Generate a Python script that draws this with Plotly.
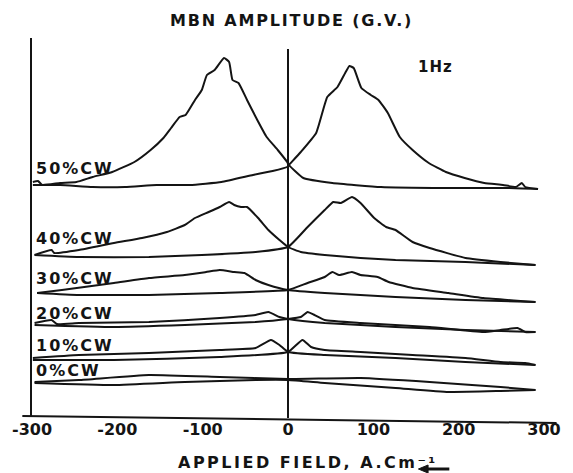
import plotly.graph_objects as go

# Applied field (A/cm) and MBN amplitude (arbitrary, stacked)
cw_labels = ["50%CW", "40%CW", "30%CW", "20%CW", "10%CW", "0%CW"]
label_y = [248, 178, 138, 103, 71, 46]

x50a = [-299, -293, -288, -267, -248, -229, -206, -180, -161, -146, -137, -127, -120, -109, -101, -95, -86, -75, -69, -65, -58, -48, -36, -25, -12, -1, 1, 18, 52, 109, 185, 259, 293]
y50a = [234, 235, 231, 233, 234, 239, 244, 254, 266, 278, 288, 299, 301, 316, 326, 341, 346, 358, 354, 336, 333, 316, 296, 279, 266, 254, 251, 238, 233, 229, 228, 228, 227]
x50b = [-299, -267, -229, -191, -154, -115, -78, -41, -18, -1, 1, 15, 33, 46, 58, 67, 72, 77, 86, 97, 106, 117, 131, 146, 165, 185, 207, 230, 252, 267, 274, 278, 293]
y50b = [231, 231, 229, 229, 231, 231, 234, 241, 245, 249, 251, 264, 283, 319, 329, 343, 350, 348, 328, 321, 316, 303, 279, 266, 253, 244, 238, 233, 231, 229, 233, 229, 227]

x40a = [-297, -277, -274, -245, -204, -171, -142, -121, -109, -93, -80, -69, -63, -55, -48, -35, -23, -10, 0, 15, 43, 85, 126, 208, 290]
y40a = [161, 166, 163, 166, 173, 178, 184, 191, 198, 204, 209, 214, 211, 209, 209, 198, 186, 176, 169, 164, 161, 158, 156, 154, 151]
x40b = [-297, -245, -163, -101, -38, 0, 23, 43, 53, 62, 75, 85, 101, 115, 126, 146, 166, 208, 249, 290]
y40b = [161, 159, 159, 161, 164, 169, 189, 206, 214, 213, 219, 213, 198, 189, 186, 174, 168, 158, 154, 151]

x30a = [-294, -265, -204, -163, -121, -96, -80, -63, -51, -38, -23, 0, 43, 126, 208, 290]
y30a = [123, 126, 133, 138, 141, 144, 146, 144, 143, 136, 131, 126, 123, 119, 116, 114]
x30b = [-294, -245, -163, -80, 0, 23, 43, 52, 60, 75, 85, 105, 118, 146, 188, 229, 290]
y30b = [123, 121, 121, 123, 126, 133, 139, 144, 141, 144, 141, 139, 134, 128, 123, 118, 114]

x20a = [-297, -277, -271, -245, -163, -80, -38, -23, -10, 0, 43, 126, 208, 290]
y20a = [93, 96, 92, 93, 94, 98, 101, 104, 99, 97, 93, 89, 86, 84]
x20b = [-297, -204, -121, -38, 0, 15, 23, 31, 43, 85, 166, 229, 249, 269, 278, 290]
y20b = [91, 89, 91, 94, 97, 99, 104, 101, 96, 93, 89, 84, 86, 88, 84, 84]

x10a = [-299, -245, -163, -80, -38, -20, -10, 0, 43, 126, 208, 290]
y10a = [58, 61, 63, 66, 68, 76, 71, 64, 61, 58, 54, 51]
x10b = [-299, -204, -80, 0, 17, 27, 43, 85, 146, 208, 249, 278, 290]
y10b = [56, 56, 59, 64, 76, 69, 66, 64, 61, 58, 54, 53, 51]

x0a = [-297, -245, -163, -80, 0, 85, 166, 249, 290]
y0a = [34, 36, 41, 39, 37, 38, 34, 29, 26]
x0b = [-297, -204, -121, -38, 0, 43, 126, 188, 249, 290]
y0b = [33, 31, 34, 36, 36, 33, 28, 24, 25, 26]

tick_vals = [-300, -200, -100, 0, 100, 200, 300]
tick_text = ["-300", "-200", "-100", "0", "100", "200", "300"]

series = [(x50a, y50a), (x50b, y50b), (x40a, y40a), (x40b, y40b), (x30a, y30a), (x30b, y30b),
          (x20a, y20a), (x20b, y20b), (x10a, y10a), (x10b, y10b), (x0a, y0a), (x0b, y0b)]

INK = "#141414"
FONT = "DejaVu Sans"

fig = go.Figure()
for xs, ys in series:
    fig.add_trace(go.Scatter(x=xs, y=ys, mode="lines",
                             line=dict(color=INK, width=2, shape="spline", smoothing=0.4),
                             hoverinfo="skip", showlegend=False))

def spaced(t, sp):
    return f'<span style="letter-spacing:{sp}px">{t}</span>'

for lab, ly in zip(cw_labels, label_y):
    fig.add_annotation(x=-298, y=ly, xref="x", yref="y", text=spaced(lab, 2), showarrow=False,
                       xanchor="left", yanchor="middle",
                       font=dict(family=FONT, size=16, color=INK, weight="bold"))

fig.add_annotation(x=0.5075, y=1.0476, xref="paper", yref="paper", text=spaced("MBN AMPLITUDE (G.V.)", 1.8),
                   showarrow=False, xanchor="center", yanchor="middle",
                   font=dict(family=FONT, size=16, color=INK, weight="bold"))
fig.add_annotation(x=0.789, y=0.923, xref="paper", yref="paper", text=spaced("1Hz", 1),
                   showarrow=False, xanchor="center", yanchor="middle",
                   font=dict(family=FONT, size=15, color=INK, weight="bold"))
fig.add_annotation(x=0.5396, y=-0.1217, xref="paper", yref="paper",
                   text=spaced("APPLIED FIELD, A.Cm⁻¹", 2.5),
                   showarrow=False, xanchor="center", yanchor="middle",
                   font=dict(family=FONT, size=16, color=INK, weight="bold"))

# arrow under the unit (line + left-pointing head)
def px(v):
    return (v - 24) / 530

def py(v):
    return (416 - v) / 378

fig.add_shape(type="line", xref="paper", yref="paper", x0=px(432), x1=px(456), y0=py(469), y1=py(469),
              line=dict(color=INK, width=3))
fig.add_shape(type="path", xref="paper", yref="paper",
              path=f"M {px(424)} {py(469)} L {px(434)} {py(465)} L {px(434)} {py(473)} Z",
              fillcolor=INK, line=dict(color=INK, width=1))

# bottom axis line (slightly tilted in the scan), centre line
fig.add_shape(type="line", xref="paper", yref="paper", x0=px(14), x1=px(567), y0=py(416), y1=py(423),
              line=dict(color=INK, width=2))
fig.add_shape(type="line", xref="x", yref="paper", x0=0, x1=0, y0=py(418), y1=py(49),
              line=dict(color=INK, width=2))

fig.update_layout(
    width=573, height=473, margin=dict(l=24, r=19, t=38, b=57),
    paper_bgcolor="white", plot_bgcolor="white", showlegend=False,
    xaxis=dict(range=[-300, 300], tickvals=tick_vals, ticktext=tick_text, showgrid=False,
               zeroline=False, showline=False, ticks="", ticklabelstandoff=2,
               tickfont=dict(family=FONT, size=16, color=INK, weight="bold")),
    yaxis=dict(range=[0, 378], showgrid=False, zeroline=False, showticklabels=False,
               showline=True, linecolor=INK, linewidth=2, ticks=""),
)

fig.write_html("out.html")
